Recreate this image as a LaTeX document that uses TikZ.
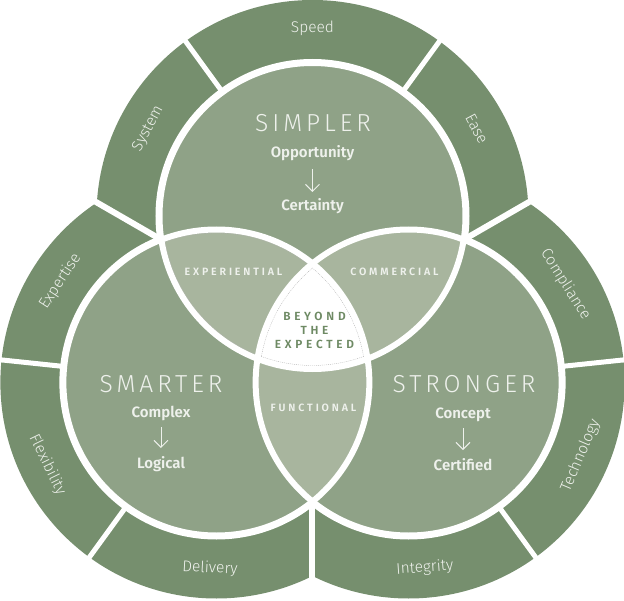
\documentclass[tikz,border=0pt]{standalone}
\usepackage{fontspec}
\setmainfont{Fira Sans}
\newfontfamily\lightfont{Fira Sans Light}
\newfontfamily\semifont{Fira Sans SemiBold}
\usetikzlibrary{arrows.meta}

\definecolor{bandgreen}{HTML}{768F6E}
\definecolor{circlegreen}{HTML}{8FA287}
\definecolor{lensgreen}{HTML}{A8B59E}
\definecolor{coregreen}{HTML}{6E8A64}
\definecolor{paletext}{HTML}{EEF1EC}

\begin{document}
\begin{tikzpicture}[x=1pt,y=1pt,
    title/.style={anchor=base,text=paletext,inner sep=0pt,
        font={\lightfont\fontsize{24.6}{26}\selectfont\addfontfeature{LetterSpace=16}}},
    word/.style={anchor=base,text=paletext,inner sep=0pt,
        font={\semifont\fontsize{15}{16}\selectfont}},
    lens/.style={anchor=base,text=paletext,inner sep=0pt,
        font={\semifont\fontsize{10.6}{11}\selectfont\addfontfeature{LetterSpace=27}}},
    core/.style={anchor=base,text=coregreen,inner sep=0pt,align=center,
        font={\semifont\fontsize{11.8}{14}\selectfont\addfontfeature{LetterSpace=32}}},
    band/.style={text=paletext,inner sep=0pt,
        font={\lightfont\fontsize{15.5}{16}\selectfont}},
    flow/.style={-{Straight Barb[length=7pt,width=14pt]},draw=paletext,line width=0.9pt}]
    \useasboundingbox (-312.5,-273) rectangle (311.5,327);

    \coordinate (T) at (90:111);
    \coordinate (L) at (210:111);
    \coordinate (R) at (330:111);

    % outer bands
    \foreach \c/\a in {T/90,L/210,R/330} {
        \begin{scope}
            \clip (0,0) -- ({\a-60}:500) -- (\a:500) -- ({\a+60}:500) -- cycle;
            \fill[bandgreen] (\c) circle (216);
        \end{scope}
    }
    \foreach \a in {30,150,270}
        \draw[white,line width=6] (0,0) -- (\a:340);
    \foreach \c/\a in {T/54,T/126,L/174,L/234,R/6,R/306}
        \draw[white,line width=5] (\c) -- ++(\a:230);

    % circles
    \foreach \c in {T,L,R}
        \fill[white] (\c) circle (157);
    \foreach \c in {T,L,R}
        \fill[circlegreen] (\c) circle (153);
    \foreach \p/\q in {T/L,L/R,R/T} {
        \begin{scope}
            \clip (\p) circle (153);
            \fill[lensgreen] (\q) circle (153);
        \end{scope}
    }
    \begin{scope}
        \clip (T) circle (153);
        \clip (L) circle (153);
        \fill[white] (R) circle (153);
        \foreach \c in {T,L,R}
            \draw[black!30,line width=0.4,dash pattern=on 1pt off 1pt] (\c) circle (149.5);
    \end{scope}
    \foreach \c in {T,L,R}
        \draw[white,line width=6] (\c) circle (153);

    % circle texts
    \node[title] (simpler) at (0.5,195) {SIMPLER};
    \node[word] (opp) at (0,169) {Opportunity};
    \node[word] (cert) at (0,117) {Certainty};
    \draw[flow] ([yshift=-11]opp.base) -- ([yshift=18]cert.base);

    \node[title] (smarter) at (-151.5,-65) {SMARTER};
    \node[word] (complex) at (-151.5,-90) {Complex};
    \node[word] (logical) at (-151.5,-141) {Logical};
    \draw[flow] ([yshift=-10]complex.base) -- ([yshift=20]logical.base);

    \node[title] (stronger) at (151.5,-65) {STRONGER};
    \node[word] (concept) at (150.5,-91) {Concept};
    \node[word] (certified) at (150.5,-143) {Certified};
    \draw[flow] ([yshift=-10]concept.base) -- ([yshift=20]certified.base);

    % overlaps
    \node[lens] (experiential) at (-79,52) {EXPERIENTIAL};
    \node[lens] (commercial) at (82,52) {COMMERCIAL};
    \node[lens] (functional) at (1,-84) {FUNCTIONAL};
    \node[core] (beyond) at (2,-21) {BEYOND\\THE\\EXPECTED};

    % band labels
    \node[band] (speed) at ([shift={(90:188)}]T) {Speed};
    \node[band,rotate=62] (system) at ([shift={(152:186)}]T) {System};
    \node[band,rotate=-62] (ease) at ([shift={(28:186)}]T) {Ease};
    \node[band,rotate=57] (expertise) at ([shift={(147:186)}]L) {Expertise};
    \node[band,rotate=-64] (flexibility) at ([shift={(206:188)}]L) {Flexibility};
    \node[band,rotate=-3] (delivery) at ([shift={(268:186)}]L) {Delivery};
    \node[band,rotate=4] (integrity) at ([shift={(275:186)}]R) {Integrity};
    \node[band,rotate=67] (technology) at ([shift={(337:187)}]R) {Technology};
    \node[band,rotate=-58] (compliance) at ([shift={(32:185)}]R) {Compliance};
\end{tikzpicture}
\end{document}
